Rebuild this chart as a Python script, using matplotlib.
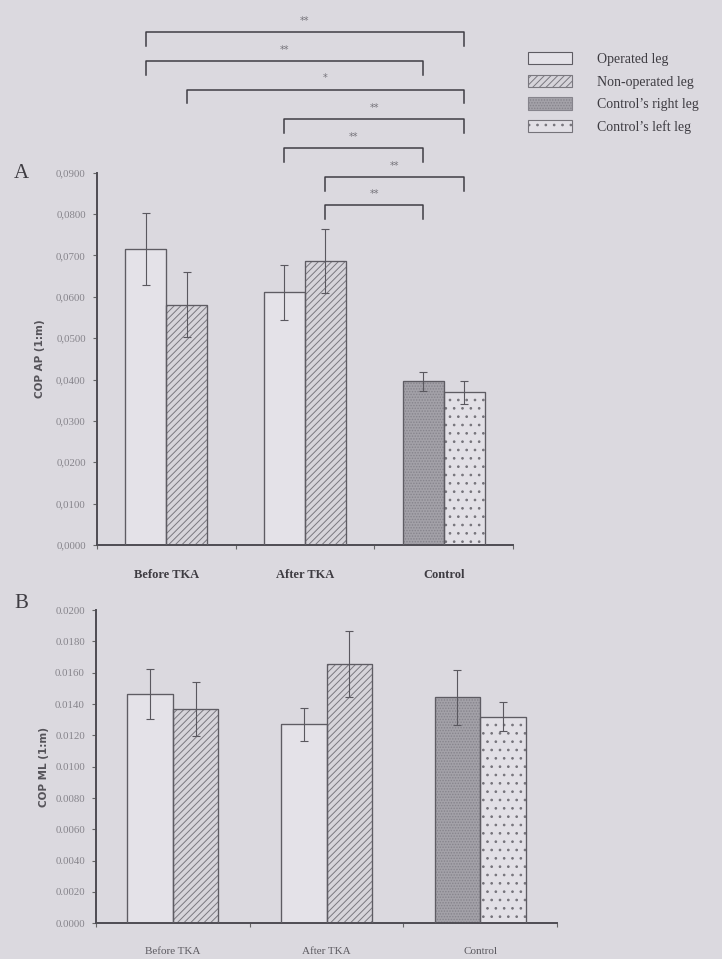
import matplotlib
matplotlib.use("Agg")
import matplotlib.pyplot as plt
from matplotlib.patches import Patch
import numpy as np

groups = ["Before TKA", "After TKA", "Control"]
legend_labels = ["Operated leg", "Non-operated leg", "Control\u2019s right leg", "Control\u2019s left leg"]

# COP AP: first and second bar of every group (operated/non-operated, control right/left)
ap_first = [0.0715, 0.0611, 0.0396]
ap_first_sd = [0.0087, 0.0066, 0.0023]
ap_second = [0.0581, 0.0687, 0.0369]
ap_second_sd = [0.0078, 0.0077, 0.0028]

# COP ML
ml_first = [0.01465, 0.0127, 0.01442]
ml_first_sd = [0.0016, 0.00105, 0.00175]
ml_second = [0.01368, 0.01657, 0.0132]
ml_second_sd = [0.0017, 0.0021, 0.0009]

# significance brackets on panel A: (group, bar), (group, bar), height, stars
brackets = [
    ((0, 0), (2, 1), 0.1239, "**"),
    ((0, 0), (2, 0), 0.1169, "**"),
    ((0, 1), (2, 1), 0.1101, "*"),
    ((1, 0), (2, 1), 0.1029, "**"),
    ((1, 0), (2, 0), 0.0959, "**"),
    ((1, 1), (2, 1), 0.0889, "**"),
    ((1, 1), (2, 0), 0.0821, "**"),
]

BG = "#dbd9df"
EDGE = "#5e5c63"
plt.rcParams["hatch.linewidth"] = 0.7

styles = {
    "operated": dict(facecolor="#e4e2e8", edgecolor=EDGE, hatch=None),
    "nonop": dict(facecolor="#d6d4da", edgecolor="#7a787f", hatch="/////"),
    "ctrl_r": dict(facecolor="#a3a1a8", edgecolor="#86848c", hatch="......"),
    "ctrl_l": dict(facecolor="#e2e0e6", edgecolor="#75737a", hatch=".."),
}
group_styles = [("operated", "nonop"), ("operated", "nonop"), ("ctrl_r", "ctrl_l")]

W = 0.296
x = np.arange(len(groups))

fig = plt.figure(figsize=(7.22, 9.59), dpi=100, facecolor=BG)
axA = fig.add_axes([0.1343, 0.4317, 0.5762, 0.3882])
axB = fig.add_axes([0.1330, 0.0372, 0.6385, 0.3267])


def draw_panel(ax, first, first_sd, second, second_sd, ymax, step, fmt, ylabel,
               xfont, xpad, ylabel_pad):
    ax.set_facecolor(BG)
    for i in range(len(groups)):
        for j, (val, sd) in enumerate([(first[i], first_sd[i]), (second[i], second_sd[i])]):
            st = styles[group_styles[i][j]]
            xc = x[i] + (j - 0.5) * W
            ax.bar(xc, val, width=W, color=st["facecolor"], edgecolor=st["edgecolor"],
                   hatch=st["hatch"], linewidth=0.8, zorder=2)
            # redraw the outline in dark grey so hatch colour stays lighter
            ax.bar(xc, val, width=W, fill=False, edgecolor=EDGE, linewidth=0.9, zorder=3)
            ax.errorbar(xc, val, yerr=sd, fmt="none", ecolor="#5a585f", elinewidth=0.8,
                        capsize=3, capthick=0.8, zorder=4)
    ax.set_xlim(-0.5, 2.5)
    ax.set_ylim(0, ymax)
    ticks = np.arange(0, ymax + step / 2, step)
    ax.set_yticks(ticks)
    ax.set_yticklabels([fmt(v) for v in ticks],
                       fontsize=7.8, color="#86848b", family="Liberation Serif")
    ax.set_xticks([-0.5, 0.5, 1.5, 2.5])
    ax.set_xticklabels([])
    ax.set_xticks(x, minor=True)
    ax.set_xticklabels(groups, minor=True, **xfont)
    ax.tick_params(axis="x", which="minor", length=0, pad=xpad)
    ax.tick_params(axis="x", which="major", length=3, width=0.8, color="#666")
    ax.tick_params(axis="y", length=3, width=0.8, color="#666", pad=5)
    for s in ["top", "right"]:
        ax.spines[s].set_visible(False)
    for s in ["left", "bottom"]:
        ax.spines[s].set_color("#4e4c53")
        ax.spines[s].set_linewidth(1.4)
    ax.set_ylabel(ylabel, fontsize=7.5, fontweight="bold", color="#555359",
                  family="DejaVu Sans", labelpad=ylabel_pad)


draw_panel(axA, ap_first, ap_first_sd, ap_second, ap_second_sd, 0.09, 0.01,
           lambda v: f"{v:.4f}".replace(".", ","), "COP AP (1:m)",
           dict(fontsize=9, fontweight="bold", color="#3e3c42", family="Liberation Serif"),
           17, 8)
draw_panel(axB, ml_first, ml_first_sd, ml_second, ml_second_sd, 0.02, 0.002,
           lambda v: f"{v:.4f}", "COP ML (1:m)",
           dict(fontsize=8, color="#5c5a60", family="Liberation Serif"), 17, 4)

# significance brackets above panel A
drop = 0.0033
for (g1, b1), (g2, b2), h, stars in brackets:
    x1 = x[g1] + (b1 - 0.5) * W
    x2 = x[g2] + (b2 - 0.5) * W
    axA.plot([x1, x1, x2, x2], [h - drop, h, h, h - drop], color="#3f3d44", lw=1.1,
             clip_on=False, zorder=5)
    axA.text((x1 + x2) / 2, h + 0.0016, stars, ha="center", va="bottom", fontsize=7,
             color="#75737a", clip_on=False)

handles = [Patch(facecolor=styles[k]["facecolor"], edgecolor=styles[k]["edgecolor"],
                 hatch=styles[k]["hatch"], linewidth=0.8)
           for k in ["operated", "nonop", "ctrl_r", "ctrl_l"]]
fig.legend(handles, legend_labels, loc="upper left", bbox_to_anchor=(528 / 722, 1 - 52 / 959),
           frameon=False, prop=dict(family="Liberation Serif", size=10),
           handlelength=3.2, handleheight=1.0, handletextpad=1.8, labelspacing=0.62,
           borderpad=0, borderaxespad=0, labelcolor="#3e3c42")

fig.text(14 / 722, 1 - 173 / 959, "A", fontsize=15, family="Liberation Serif",
         color="#3e3c42", va="center")
fig.text(14 / 722, 1 - 603 / 959, "B", fontsize=15, family="Liberation Serif",
         color="#3e3c42", va="center")

fig.savefig("out.png", dpi=100, facecolor=BG)
